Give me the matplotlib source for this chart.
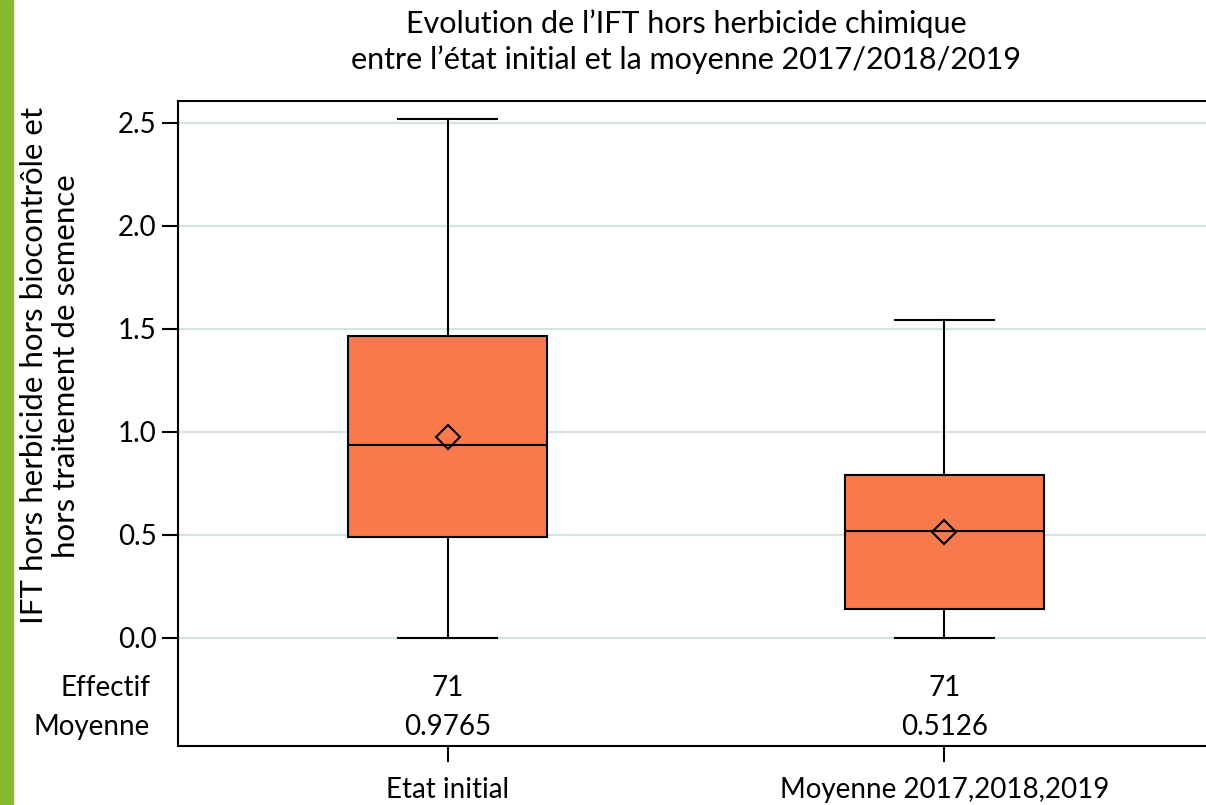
import matplotlib.pyplot as plt
from matplotlib.patches import Rectangle
import matplotlib.transforms as mtransforms

plt.rcParams['font.family'] = ['Lato', 'DejaVu Sans']

groups = ["Etat initial", "Moyenne 2017,2018,2019"]
q1 = [0.487, 0.138]
median = [0.937, 0.518]
q3 = [1.466, 0.790]
whisk_low = [0.0, 0.0]
whisk_high = [2.517, 1.542]
means = [0.9765, 0.5126]
effectif = [71, 71]
moyenne_txt = ["0.9765", "0.5126"]
yticks = [0.0, 0.5, 1.0, 1.5, 2.0, 2.5]

W, H = 1206, 805
fig = plt.figure(figsize=(W / 100, H / 100), dpi=100)

# green strip on the left edge
fig.patches.append(Rectangle((0, 0), 13 / W, 1, transform=fig.transFigure,
                             color='#86bb2f', zorder=0))

left, right, top, bottom = 178, 1214, 100.7, 745.7
ax = fig.add_axes([left / W, (H - bottom) / H, (right - left) / W, (bottom - top) / H])

stats = []
for i in range(len(groups)):
    stats.append(dict(med=median[i], q1=q1[i], q3=q3[i], whislo=whisk_low[i],
                      whishi=whisk_high[i], mean=means[i], fliers=[], label=groups[i]))

positions = [1, 2]
ax.bxp(stats, positions=positions, widths=0.4, capwidths=0.2, patch_artist=True,
       showmeans=True, meanline=False,
       boxprops=dict(facecolor='#f7794c', edgecolor='black', linewidth=1.5),
       medianprops=dict(color='black', linewidth=1.5),
       whiskerprops=dict(color='black', linewidth=1.5),
       capprops=dict(color='black', linewidth=1.5),
       meanprops=dict(marker='D', markerfacecolor='none', markeredgecolor='black',
                      markersize=12, markeredgewidth=1.5))

ax.set_xlim(0.4575, 2.5425)
ax.set_ylim(-0.524, 2.607)
ax.set_yticks(yticks)
ax.set_yticklabels([f"{v:.1f}" for v in yticks])
ax.set_xticks(positions)
ax.set_xticklabels(groups)
ax.tick_params(axis='both', length=11.5, width=1.5, labelsize=20, direction='out')
ax.tick_params(axis='y', pad=4)
ax.tick_params(axis='x', pad=11)

for v in yticks:
    ax.axhline(v, color='#d6e2dd', linewidth=1.6, zorder=0)

for s in ['left', 'top', 'bottom']:
    ax.spines[s].set_linewidth(1.5)
ax.spines['right'].set_visible(False)

# table under the plot
trans = mtransforms.blended_transform_factory(ax.transAxes, ax.transData)
ax.text(-0.027, -0.244, "Effectif", transform=trans, ha='right', va='center', fontsize=20)
ax.text(-0.027, -0.433, "Moyenne", transform=trans, ha='right', va='center', fontsize=20)
for i, p in enumerate(positions):
    ax.text(p, -0.244, str(effectif[i]), ha='center', va='center', fontsize=20)
    ax.text(p, -0.433, moyenne_txt[i], ha='center', va='center', fontsize=20)

fig.text(686 / W, 1 - 42 / H,
         "Evolution de l\u2019IFT hors herbicide chimique\nentre l\u2019\u00e9tat initial et la moyenne 2017/2018/2019",
         ha='center', va='center', fontsize=22, linespacing=1.3)

fig.text(50 / W, (H - 366) / H,
         "IFT hors herbicide hors biocontr\u00f4le et\nhors traitement de semence",
         ha='center', va='center', rotation=90, fontsize=22.5, linespacing=1.2)

fig.savefig("out.png", dpi=100)
